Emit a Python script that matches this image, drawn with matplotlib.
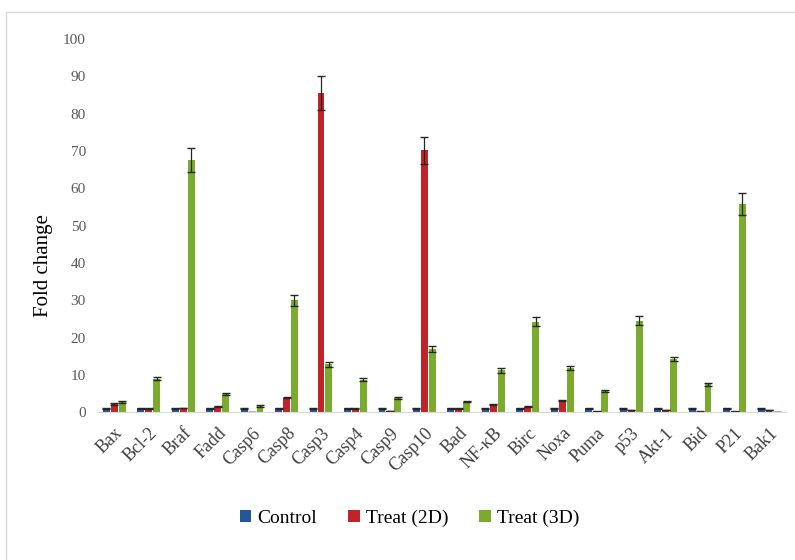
import matplotlib.pyplot as plt
import numpy as np
from matplotlib.patches import Rectangle

genes = ["Bax", "Bcl-2", "Braf", "Fadd", "Casp6", "Casp8", "Casp3", "Casp4", "Casp9",
         "Casp10", "Bad", "NF-κB", "Birc", "Noxa", "Puma", "p53", "Akt-1", "Bid", "P21", "Bak1"]
control = [1, 1, 1, 1, 1, 1, 1, 1, 1, 1, 1, 1, 1, 1, 1, 1, 1, 1, 1, 1]
treat_2d = [2.2, 1.0, 1.1, 1.5, 0.0, 3.9, 85.5, 1.0, 0.3, 70.2, 1.0, 2.1, 1.5, 3.1, 0.2, 0.6, 0.6, 0.2, 0.2, 0.6]
treat_3d = [2.7, 9.0, 67.5, 4.9, 1.7, 30.0, 12.8, 8.7, 3.8, 17.0, 2.8, 11.2, 24.3, 11.8, 5.6, 24.5, 14.3, 7.5, 55.8, 0.0]
control_err = [0.1] * 20
treat_2d_err = [0.2, 0.1, 0.1, 0.1, 0.0, 0.2, 4.5, 0.1, 0.05, 3.7, 0.1, 0.2, 0.1, 0.2, 0.05, 0.1, 0.1, 0.05, 0.05, 0.1]
treat_3d_err = [0.2, 0.5, 3.2, 0.3, 0.2, 1.5, 0.7, 0.4, 0.2, 0.8, 0.2, 0.7, 1.2, 0.6, 0.3, 1.2, 0.6, 0.4, 3.0, 0.0]

plt.rcParams["font.family"] = ["Liberation Serif", "DejaVu Serif"]

fig = plt.figure(figsize=(7.95, 5.6), dpi=100)
fig.patches.append(Rectangle((6 / 795, -0.1), 1.2, (548 + 56) / 560, transform=fig.transFigure,
                             fill=False, edgecolor="#d9d9d9", linewidth=1))
ax = fig.add_axes([0.122, 0.264, 0.867, 0.666])

x = np.arange(len(genes))
w = 0.2
step = 0.23
err_kw = dict(ecolor="#262626", elinewidth=0.9, capsize=3, capthick=1)
ax.bar(x - step, control, w, yerr=control_err, color="#24569a", label="Control", error_kw=err_kw)
ax.bar(x, treat_2d, w, yerr=treat_2d_err, color="#c0232a", label="Treat (2D)", error_kw=err_kw)
ax.bar(x + step, treat_3d, w, yerr=treat_3d_err, color="#7aab2e", label="Treat (3D)", error_kw=err_kw)

ax.set_xlim(-0.5, len(genes) - 0.5)
ax.set_ylim(0, 100)
ax.set_yticks(np.arange(0, 101, 10))
ax.tick_params(axis="y", length=0, labelsize=11, labelcolor="#595959", pad=8)
ax.tick_params(axis="x", length=0, labelsize=13, labelcolor="#404040", pad=9)
ax.set_xticks(x)
ax.set_xticklabels(genes, rotation=45, ha="right", rotation_mode="anchor")
ax.set_ylabel("Fold change", fontsize=15)
ax.yaxis.set_label_coords(-0.064, 0.394)

for s in ["top", "right", "left"]:
    ax.spines[s].set_visible(False)
ax.spines["bottom"].set_color("#d9d9d9")

handles, labels = ax.get_legend_handles_labels()
fig.legend(handles, labels, loc="center", bbox_to_anchor=(0.515, 0.075), ncol=3, frameon=False,
           fontsize=14, handlelength=0.6, handleheight=0.6, handletextpad=0.3, columnspacing=1.6)

fig.savefig("out.png", dpi=100)
